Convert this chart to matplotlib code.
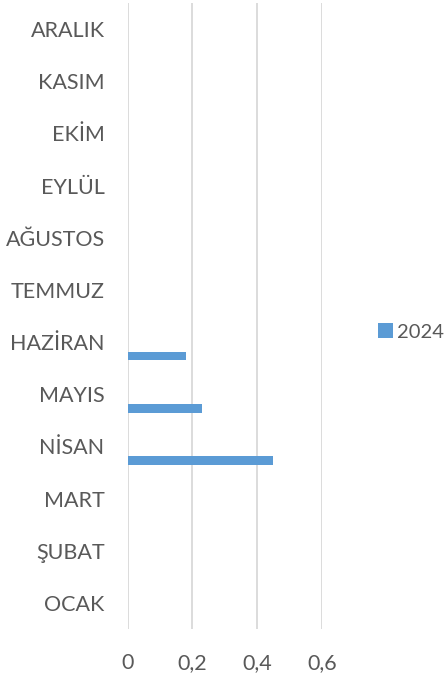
import numpy as np
import matplotlib.pyplot as plt

# Aylar (alttan üste) ve 2024 değerleri
aylar = ["OCAK", "ŞUBAT", "MART", "NİSAN", "MAYIS", "HAZİRAN",
         "TEMMUZ", "AĞUSTOS", "EYLÜL", "EKİM", "KASIM", "ARALIK"]
degerler_2024 = [0, 0, 0, 0.45, 0.23, 0.18, 0, 0, 0, 0, 0, 0]
x_ticks = [0, 0.2, 0.4, 0.6]
x_tick_labels = ["0", "0,2", "0,4", "0,6"]

plt.rcParams['font.family'] = ['Lato', 'DejaVu Sans']
gri = "#595959"

fig = plt.figure(figsize=(4.48, 6.79), dpi=100)
ax = fig.add_axes([127.5 / 448, 50 / 679, (321.7 - 127.5) / 448, 626 / 679])

y = np.arange(len(aylar))
ax.barh(y - 0.27, degerler_2024, height=0.165, color="#5b9bd5", label="2024")

ax.set_xlim(0, 0.6)
ax.set_ylim(-0.5, len(aylar) - 0.5)
ax.set_xticks(x_ticks)
ax.set_xticklabels(x_tick_labels)
ax.set_yticks(y)
ax.set_yticklabels(aylar)
ax.tick_params(axis="both", length=0, labelsize=15.5, colors=gri)
ax.tick_params(axis="x", pad=17)
ax.tick_params(axis="y", pad=16.5)

ax.grid(axis="x", color="#d9d9d9", linewidth=1.3)
ax.set_axisbelow(True)
for s in ax.spines.values():
    s.set_visible(False)

leg = fig.legend(loc="center left", bbox_to_anchor=(378 / 448, 1 - 332 / 679),
                 frameon=False, fontsize=14.5, handlelength=0.75, handleheight=0.75,
                 handletextpad=0.2, borderpad=0, borderaxespad=0)
for t in leg.get_texts():
    t.set_color(gri)

fig.savefig("out.png", dpi=100)
